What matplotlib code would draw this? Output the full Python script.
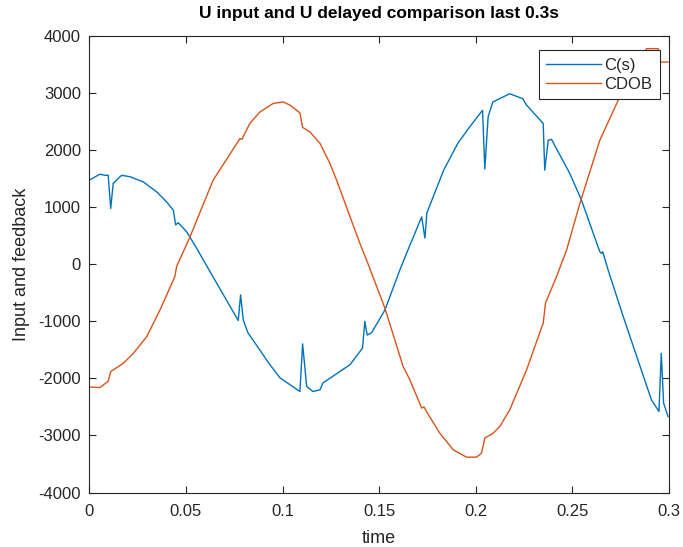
import matplotlib
matplotlib.use("Agg")
import matplotlib.pyplot as plt

plt.rcParams["font.family"] = ["Liberation Sans", "DejaVu Sans"]
plt.rcParams["axes.unicode_minus"] = False

# C(s) series
t_c = [0.0, 0.0055, 0.0081, 0.0098, 0.0111, 0.0124, 0.0159, 0.0168, 0.0211, 0.0279,
       0.0349, 0.0400, 0.0435, 0.0447, 0.0460, 0.0504, 0.0556, 0.0614, 0.0771, 0.0783,
       0.0797, 0.0821, 0.0935, 0.0987, 0.1090, 0.1104, 0.1125, 0.1157, 0.1194, 0.1209,
       0.1349, 0.1414, 0.1426, 0.1438, 0.1461, 0.1530, 0.1607, 0.1649, 0.1720, 0.1737,
       0.1747, 0.1834, 0.1907, 0.1969, 0.2035, 0.2047, 0.2064, 0.2088, 0.2176, 0.2244,
       0.2263, 0.2349, 0.2357, 0.2375, 0.2392, 0.2487, 0.2547, 0.2642, 0.2651, 0.2657,
       0.2685, 0.2763, 0.2909, 0.2948, 0.2960, 0.2972, 0.2995]
v_c = [1475, 1580, 1560, 1560, 980, 1420, 1535, 1560, 1535, 1445,
       1270, 1095, 950, 690, 730, 570, 280, -65, -985, -535,
       -975, -1200, -1760, -1990, -2230, -1395, -2140, -2230, -2200, -2080,
       -1760, -1470, -1000, -1240, -1200, -800, -100, 250, 830, 460,
       900, 1650, 2120, 2410, 2700, 1670, 2585, 2845, 2990, 2900,
       2790, 2470, 1650, 2175, 2190, 1590, 1125, 220, 190, 220,
       -100, -915, -2375, -2580, -1560, -2430, -2670]

# CDOB series
t_o = [0.0, 0.0055, 0.0098, 0.0111, 0.0176, 0.0228, 0.0297, 0.0366, 0.0443, 0.0452,
       0.0521, 0.0641, 0.0780, 0.0790, 0.0831, 0.0883, 0.0952, 0.1004, 0.1039, 0.1090,
       0.1104, 0.1142, 0.1194, 0.1245, 0.1280, 0.1400, 0.1435, 0.1530, 0.1624, 0.1659,
       0.1720, 0.1732, 0.1745, 0.1814, 0.1883, 0.1952, 0.2004, 0.2030, 0.2047, 0.2090,
       0.2125, 0.2176, 0.2263, 0.2349, 0.2361, 0.2418, 0.2470, 0.2539, 0.2642, 0.2737,
       0.2808, 0.2884, 0.2944, 0.2952, 0.2995]
v_o = [-2150, -2160, -2050, -1880, -1735, -1560, -1270, -800, -215, -40,
       480, 1475, 2205, 2190, 2470, 2670, 2820, 2845, 2790, 2655,
       2400, 2320, 2120, 1770, 1475, 370, 75, -770, -1790, -2025,
       -2520, -2500, -2580, -2960, -3250, -3380, -3380, -3310, -3045, -2960,
       -2840, -2550, -1850, -1030, -680, -215, 250, 1070, 2175, 2875,
       3350, 3780, 3780, 3545, 3545]

xticks = [0, 0.05, 0.1, 0.15, 0.2, 0.25, 0.3]
xticklabels = ["0", "0.05", "0.1", "0.15", "0.2", "0.25", "0.3"]
yticks = [-4000, -3000, -2000, -1000, 0, 1000, 2000, 3000, 4000]

txt = "#262626"
axc = "#262626"

fig = plt.figure(figsize=(6.83, 5.47), dpi=100)
ax = fig.add_axes([0.1307, 0.0996, 0.9795 - 0.1307, 0.934 - 0.0996])
ax.plot(t_c, v_c, color="#0072BD", lw=1.0, label="C(s)")
ax.plot(t_o, v_o, color="#D95319", lw=1.0, label="CDOB")
ax.set_xlim(0, 0.3)
ax.set_ylim(-4000, 4000)
ax.set_xticks(xticks)
ax.set_xticklabels(xticklabels)
ax.set_yticks(yticks)
ax.tick_params(direction="in", top=True, right=True, labelsize=12, colors=txt, length=5)
ax.tick_params(axis="x", pad=8)
ax.tick_params(axis="y", pad=6)
for s in ax.spines.values():
    s.set_color(axc)
    s.set_linewidth(0.8)
ax.set_xlabel("time", fontsize=13, color=txt, labelpad=8)
ax.set_ylabel("Input and feedback", fontsize=13, color=txt, labelpad=6)
ax.set_title("U input and U delayed comparison last 0.3s", fontsize=12.5, fontweight="bold", color="black", pad=13)
leg = ax.legend(loc="upper right", bbox_to_anchor=(0.9845, 0.969), fontsize=12, frameon=True,
                fancybox=False, edgecolor="#262626", handlelength=3.3, borderpad=0.45,
                labelspacing=0.25, handletextpad=0.2, borderaxespad=0, framealpha=1)
leg.get_frame().set_linewidth(0.8)
for tx in leg.get_texts():
    tx.set_color(txt)
fig.savefig("out.png", dpi=100)
